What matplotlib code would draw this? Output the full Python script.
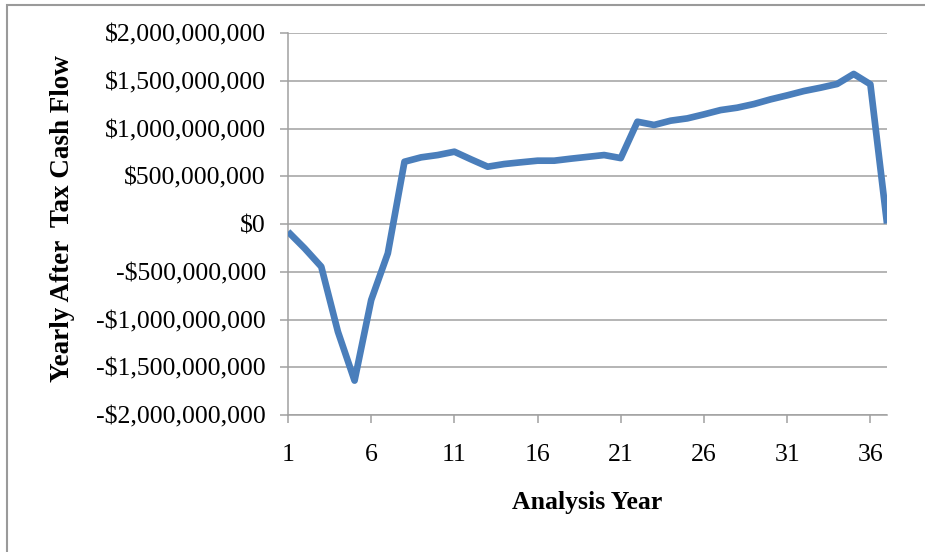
import matplotlib
matplotlib.use("Agg")
import matplotlib.pyplot as plt
from matplotlib.ticker import FuncFormatter, FixedLocator
from matplotlib.patches import Rectangle

# Yearly after-tax cash flow by analysis year (USD)
years = list(range(1, 38))
cash_flow_millions = [
    -80, -255, -447, -1128, -1640, -796, -307, 652, 698, 722,
    757, 677, 600, 628, 646, 663, 663, 684, 703, 722,
    690, 1071, 1037, 1082, 1106, 1148, 1193, 1218, 1256, 1305,
    1347, 1392, 1427, 1466, 1571, 1463, 5,
]
cash_flow = [v * 1e6 for v in cash_flow_millions]

x_ticks = [1, 6, 11, 16, 21, 26, 31, 36]
y_ticks = [-2e9, -1.5e9, -1e9, -5e8, 0, 5e8, 1e9, 1.5e9, 2e9]

x_title = "Analysis Year"
y_title = "Yearly After  Tax Cash Flow"

line_color = "#4A7EBB"
grid_color = "#A0A0A0"

plt.rcParams["font.family"] = ["Liberation Serif", "DejaVu Serif"]

W, H = 925, 552
fig = plt.figure(figsize=(W / 100, H / 100), dpi=100)

# outer chart frame
fig.patches.append(Rectangle((7 / W, -0.1), 1.2, 1 - 5 / H + 0.1,
                             transform=fig.transFigure, fill=False,
                             edgecolor="#9A9A9A", linewidth=1.5))

left, right, top, bottom = 288, 887, 33, 415
ax = fig.add_axes([left / W, 1 - bottom / H, (right - left) / W, (bottom - top) / H])

ax.plot(years, cash_flow, color=line_color, linewidth=4.8,
        solid_joinstyle="round", solid_capstyle="butt", zorder=3)

ax.set_xlim(1, 37)
ax.set_ylim(-2e9, 2e9)
ax.xaxis.set_major_locator(FixedLocator(x_ticks))
ax.yaxis.set_major_locator(FixedLocator(y_ticks))


def money(v, pos):
    v = int(round(v))
    if v < 0:
        return "-${:,}".format(-v)
    return "${:,}".format(v)


ax.yaxis.set_major_formatter(FuncFormatter(money))

ax.grid(axis="y", color=grid_color, linewidth=1.1)
ax.set_axisbelow(True)
for side in ("top", "right"):
    ax.spines[side].set_visible(False)
for side in ("left", "bottom"):
    ax.spines[side].set_color(grid_color)
    ax.spines[side].set_linewidth(1.1)

ax.tick_params(axis="both", colors=grid_color, labelcolor="black",
               labelsize=18.5, length=6, width=1.1, direction="out")
ax.tick_params(axis="y", pad=10)
ax.tick_params(axis="x", pad=15)

fig.text((left + right) / 2 / W, 1 - 503 / H, x_title, ha="center", va="center",
         fontsize=18.5, fontweight="bold")
fig.text(63 / W, 1 - 219 / H, y_title, ha="center", va="center",
         rotation=90, fontsize=19.5, fontweight="bold")

fig.savefig("out.png", dpi=100)
